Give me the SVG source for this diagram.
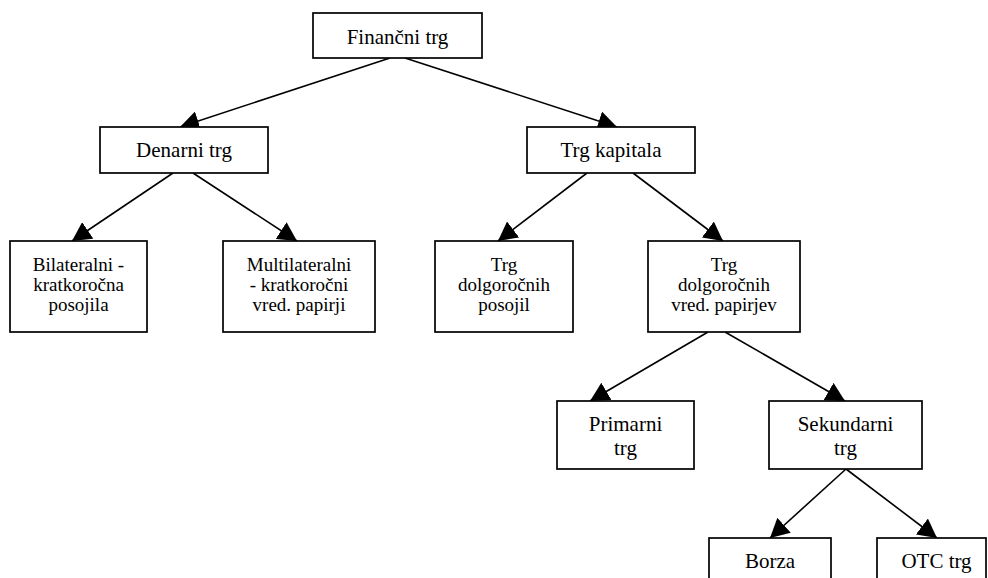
<svg xmlns="http://www.w3.org/2000/svg" width="988" height="578" viewBox="0 0 988 578">
<style>
.box{fill:#fff;stroke:#000;stroke-width:1.7}
.edge{stroke:#000;stroke-width:1.6;fill:none;marker-end:url(#arr)}
text{font-family:"Liberation Serif","Times New Roman",serif;fill:#000;text-anchor:middle}
.t{font-size:21px}
.s{font-size:19px}
</style>
<defs>
<marker id="arr" markerUnits="userSpaceOnUse" markerWidth="20" markerHeight="20" refX="19" refY="10" orient="auto" viewBox="0 0 20 20">
<path d="M0,0 L19,10 L0,20 z" fill="#000"/>
</marker>
</defs>
<rect width="988" height="578" fill="#fff"/>
<g id="connectors">
<line class="edge" x1="390" y1="58" x2="180" y2="127"/>
<line class="edge" x1="405" y1="58" x2="617" y2="127"/>
<line class="edge" x1="173" y1="173" x2="72" y2="241"/>
<line class="edge" x1="193" y1="173" x2="297" y2="241"/>
<line class="edge" x1="587" y1="173" x2="498" y2="241"/>
<line class="edge" x1="633" y1="173" x2="723" y2="241"/>
<line class="edge" x1="708" y1="332" x2="590" y2="401"/>
<line class="edge" x1="725" y1="332" x2="845" y2="401"/>
<line class="edge" x1="846" y1="469" x2="770" y2="538"/>
<line class="edge" x1="846" y1="469" x2="937" y2="538"/>
</g>
<g id="financni-trg">
<rect class="box" x="313" y="13" width="169" height="45"/>
<text class="t" x="397.5" y="44">Finančni trg</text>
</g>
<g id="denarni-trg">
<rect class="box" x="100" y="127" width="168" height="46"/>
<text class="t" x="184" y="157">Denarni trg</text>
</g>
<g id="trg-kapitala">
<rect class="box" x="527" y="127" width="168" height="46"/>
<text class="t" x="611" y="157">Trg kapitala</text>
</g>
<g id="bilateralni">
<rect class="box" x="10" y="241" width="137" height="91"/>
<text class="s" x="78.5" y="270.5">Bilateralni -</text>
<text class="s" x="78.5" y="290.5">kratkoročna</text>
<text class="s" x="78.5" y="310.5">posojila</text>
</g>
<g id="multilateralni">
<rect class="box" x="223" y="241" width="152" height="91"/>
<text class="s" x="299" y="270.5">Multilateralni</text>
<text class="s" x="299" y="290.5">- kratkoročni</text>
<text class="s" x="299" y="310.5">vred. papirji</text>
</g>
<g id="dolgorocnih-posojil">
<rect class="box" x="435" y="241" width="138" height="91"/>
<text class="s" x="504" y="270.5">Trg</text>
<text class="s" x="504" y="290.5">dolgoročnih</text>
<text class="s" x="504" y="310.5">posojil</text>
</g>
<g id="dolgorocnih-papirjev">
<rect class="box" x="648" y="241" width="152" height="91"/>
<text class="s" x="724" y="270.5">Trg</text>
<text class="s" x="724" y="290.5">dolgoročnih</text>
<text class="s" x="724" y="310.5">vred. papirjev</text>
</g>
<g id="primarni-trg">
<rect class="box" x="557" y="401" width="137" height="68"/>
<text class="t" x="625.5" y="430.5">Primarni</text>
<text class="t" x="625.5" y="454.5">trg</text>
</g>
<g id="sekundarni-trg">
<rect class="box" x="769" y="401" width="153" height="68"/>
<text class="t" x="845.5" y="430.5">Sekundarni</text>
<text class="t" x="845.5" y="454.5">trg</text>
</g>
<g id="borza">
<rect class="box" x="709" y="538" width="122" height="50"/>
<text class="t" x="770" y="567.5">Borza</text>
</g>
<g id="otc-trg">
<rect class="box" x="877" y="538" width="109" height="50"/>
<text class="t" x="936.5" y="567.5">OTC trg</text>
</g>
</svg>
